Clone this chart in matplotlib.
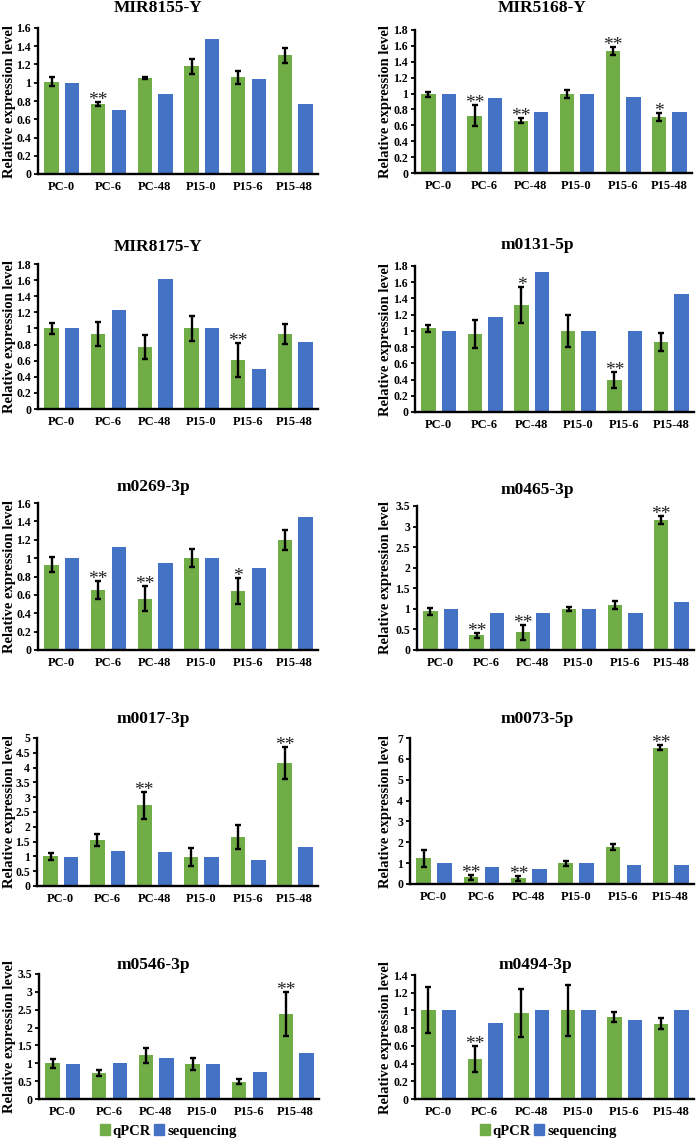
import numpy as np
import matplotlib
matplotlib.use('Agg')
import matplotlib.pyplot as plt
from matplotlib.patches import Patch
from matplotlib.ticker import FuncFormatter

plt.rcParams['font.family'] = ['Liberation Serif', 'DejaVu Serif']
plt.rcParams['font.weight'] = 'bold'

groups = ['PC-0', 'PC-6', 'PC-48', 'P15-0', 'P15-6', 'P15-48']

# MIR8155-Y
mir8155_qpcr = [1.01, 0.77, 1.05, 1.18, 1.06, 1.30]
mir8155_err = [0.05, 0.02, 0.01, 0.08, 0.07, 0.08]
mir8155_seq = [1.00, 0.70, 0.88, 1.48, 1.04, 0.77]
mir8155_sig = ['', '**', '', '', '', '']

# MIR5168-Y
mir5168_qpcr = [0.99, 0.72, 0.66, 0.99, 1.53, 0.71]
mir5168_err = [0.03, 0.13, 0.03, 0.05, 0.05, 0.05]
mir5168_seq = [1.00, 0.95, 0.77, 1.00, 0.96, 0.77]
mir5168_sig = ['', '**', '**', '', '**', '*']

# MIR8175-Y
mir8175_qpcr = [1.00, 0.93, 0.77, 1.00, 0.61, 0.93]
mir8175_err = [0.07, 0.15, 0.15, 0.16, 0.21, 0.12]
mir8175_seq = [1.00, 1.23, 1.61, 1.00, 0.50, 0.83]
mir8175_sig = ['', '', '', '', '**', '']

# m0131-5p
m0131_qpcr = [1.03, 0.96, 1.32, 1.00, 0.39, 0.86]
m0131_err = [0.04, 0.17, 0.22, 0.20, 0.10, 0.11]
m0131_seq = [1.00, 1.17, 1.72, 1.00, 1.00, 1.45]
m0131_sig = ['', '', '*', '', '**', '']

# m0269-3p
m0269_qpcr = [0.93, 0.65, 0.56, 1.00, 0.64, 1.20]
m0269_err = [0.08, 0.10, 0.14, 0.10, 0.14, 0.11]
m0269_seq = [1.00, 1.12, 0.95, 1.00, 0.89, 1.45]
m0269_sig = ['', '**', '**', '', '*', '']

# m0465-3p
m0465_qpcr = [0.94, 0.36, 0.43, 1.00, 1.10, 3.16]
m0465_err = [0.08, 0.06, 0.18, 0.05, 0.10, 0.10]
m0465_seq = [1.00, 0.89, 0.91, 1.00, 0.91, 1.17]
m0465_sig = ['', '**', '**', '', '', '**']

# m0017-3p
m0017_qpcr = [1.00, 1.55, 2.72, 0.97, 1.65, 4.16]
m0017_err = [0.12, 0.21, 0.46, 0.30, 0.40, 0.53]
m0017_seq = [0.97, 1.17, 1.14, 0.97, 0.89, 1.32]
m0017_sig = ['', '', '**', '', '', '**']

# m0073-5p
m0073_qpcr = [1.23, 0.33, 0.27, 0.99, 1.77, 6.53]
m0073_err = [0.42, 0.12, 0.13, 0.12, 0.15, 0.12]
m0073_seq = [1.00, 0.81, 0.72, 1.00, 0.92, 0.92]
m0073_sig = ['', '**', '**', '', '', '**']

# m0546-3p
m0546_qpcr = [1.00, 0.72, 1.22, 0.98, 0.48, 2.38]
m0546_err = [0.13, 0.08, 0.20, 0.17, 0.07, 0.62]
m0546_seq = [0.99, 1.00, 1.15, 0.98, 0.77, 1.30]
m0546_sig = ['', '', '', '', '', '**']

# m0494-3p
m0494_qpcr = [1.00, 0.45, 0.97, 1.00, 0.93, 0.85]
m0494_err = [0.26, 0.15, 0.27, 0.29, 0.055, 0.065]
m0494_seq = [1.00, 0.86, 1.00, 1.00, 0.89, 1.00]
m0494_sig = ['', '**', '', '', '', '']

panels = [
    ('MIR8155-Y', mir8155_qpcr, mir8155_err, mir8155_seq, mir8155_sig, 1.6, 0.2),
    ('MIR5168-Y', mir5168_qpcr, mir5168_err, mir5168_seq, mir5168_sig, 1.8, 0.2),
    ('MIR8175-Y', mir8175_qpcr, mir8175_err, mir8175_seq, mir8175_sig, 1.8, 0.2),
    ('m0131-5p', m0131_qpcr, m0131_err, m0131_seq, m0131_sig, 1.8, 0.2),
    ('m0269-3p', m0269_qpcr, m0269_err, m0269_seq, m0269_sig, 1.6, 0.2),
    ('m0465-3p', m0465_qpcr, m0465_err, m0465_seq, m0465_sig, 3.5, 0.5),
    ('m0017-3p', m0017_qpcr, m0017_err, m0017_seq, m0017_sig, 5, 0.5),
    ('m0073-5p', m0073_qpcr, m0073_err, m0073_seq, m0073_sig, 7, 1),
    ('m0546-3p', m0546_qpcr, m0546_err, m0546_seq, m0546_sig, 3.5, 0.5),
    ('m0494-3p', m0494_qpcr, m0494_err, m0494_seq, m0494_sig, 1.4, 0.2),
]

# layout in pixels: axes left, right, top, bottom / title x, y / ylabel right edge
W, H = 697, 1139
boxes = [(38, 318, 28, 174), (415, 692, 30, 173),
         (38, 318, 264, 409), (415, 694, 266, 412),
         (38, 318, 503, 650), (417, 694, 506, 650),
         (37, 318, 738, 886), (410, 694, 738, 884),
         (39, 319, 974, 1099), (415, 694, 975, 1099)]
title_pos = [(158, 8), (542, 8), (158, 247), (537, 245), (153, 487),
             (537, 490), (153, 719), (537, 719), (153, 965), (535, 965)]
ylab_x = [16, 392, 16, 392, 16, 392, 16, 392, 16, 392]

green = '#70AD47'
blue = '#4472C4'

fig = plt.figure(figsize=(W / 100, H / 100), dpi=100)
x = np.arange(len(groups))

for k, (name, q, e, s, sig, ymax, step) in enumerate(panels):
    l, r, t, b = boxes[k]
    ax = fig.add_axes([l / W, 1 - b / H, (r - l) / W, (b - t) / H])
    ax.bar(x - 0.21, q, 0.31, color=green)
    ax.bar(x + 0.23, s, 0.31, color=blue)
    ax.errorbar(x - 0.21, q, yerr=e, fmt='none', ecolor='black',
                elinewidth=1.7, capsize=2, capthick=1.7)
    for i in range(len(groups)):
        if sig[i]:
            ax.annotate(sig[i], (x[i] - 0.21, q[i] + e[i]), xytext=(0, -5),
                        textcoords='offset points', ha='center', va='bottom',
                        fontsize=14, fontweight='normal', color='#222222')
    ax.set_xlim(-0.5, 5.5)
    ax.set_ylim(0, ymax)
    ax.set_yticks(np.arange(0, ymax + step / 2, step))
    ax.yaxis.set_major_formatter(FuncFormatter(lambda v, p: f'{v:g}'))
    ax.set_xticks(x)
    ax.set_xticklabels(groups, fontweight='bold')
    for lab in ax.get_yticklabels():
        lab.set_fontweight('bold')
    ax.tick_params(axis='y', direction='out', length=3, width=1.3, labelsize=8.5, pad=2)
    ax.tick_params(axis='x', length=0, labelsize=9, pad=5)
    for sp in ['top', 'right']:
        ax.spines[sp].set_visible(False)
    for sp in ['left', 'bottom']:
        ax.spines[sp].set_linewidth(1.7)
    ax.set_ylabel('Relative expression level', fontsize=10.5, fontweight='bold')
    ax.yaxis.set_label_coords((ylab_x[k] - l) / (r - l), 0.5)
    tx, ty = title_pos[k]
    fig.text(tx / W, 1 - ty / H, name, ha='center', va='center', fontsize=12.5,
             fontweight='bold')

handles = [Patch(color=green), Patch(color=blue)]
for cx in [168, 548]:
    fig.legend(handles, ['qPCR', 'sequencing'], loc='center',
               bbox_to_anchor=(cx / W, 1 - 1131 / H), ncol=2, frameon=False,
               handlelength=0.7, handleheight=0.7, handletextpad=0.2,
               columnspacing=0.2, borderpad=0,
               prop={'weight': 'bold', 'size': 10.5})

fig.savefig('out.png', dpi=100)
